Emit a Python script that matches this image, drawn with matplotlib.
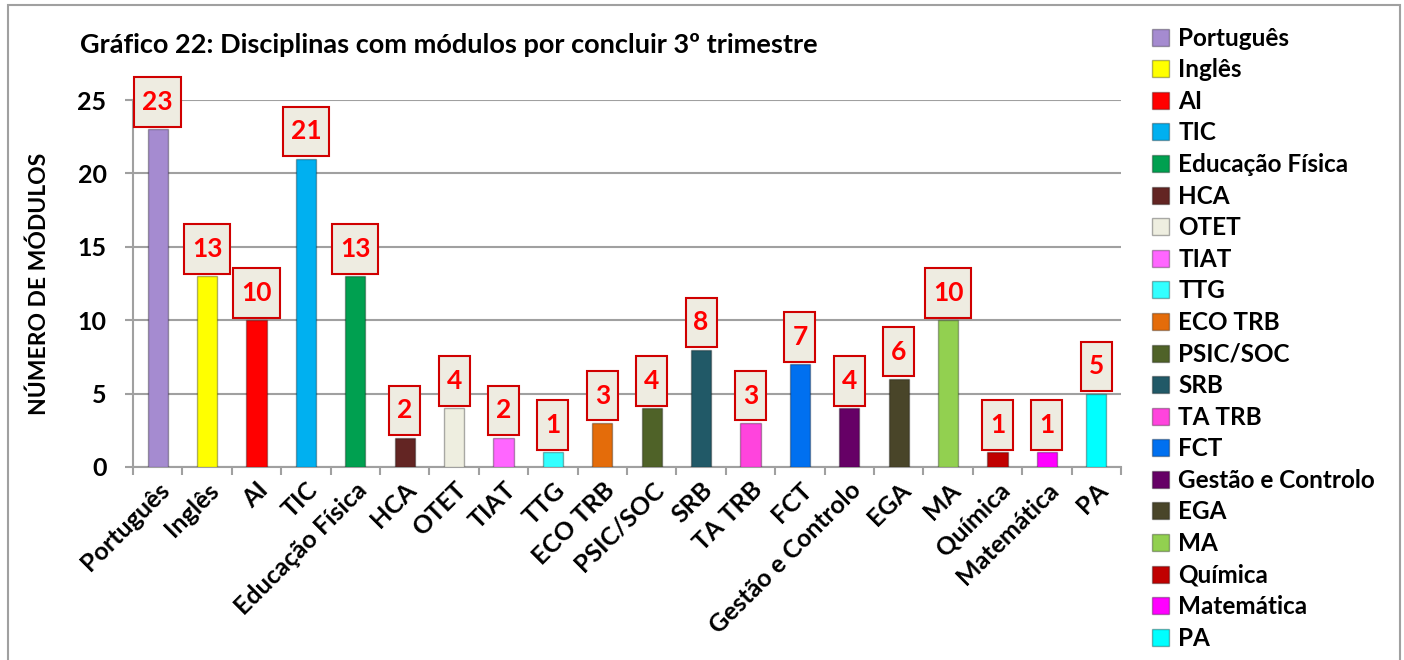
import matplotlib.pyplot as plt
from matplotlib.patches import Patch, Rectangle
from matplotlib.path import Path

plt.rcParams['font.family'] = ['Lato', 'DejaVu Sans']
plt.rcParams['font.weight'] = 'bold'

categories = ["Português", "Inglês", "AI", "TIC", "Educação Física", "HCA", "OTET",
              "TIAT", "TTG", "ECO TRB", "PSIC/SOC", "SRB", "TA TRB", "FCT",
              "Gestão e Controlo", "EGA", "MA", "Química", "Matemática", "PA"]
values = [23, 13, 10, 21, 13, 2, 4, 2, 1, 3, 4, 8, 3, 7, 4, 6, 10, 1, 1, 5]
colors = ["#a58bd0", "#ffff00", "#ff0000", "#00b0f0", "#00a050", "#632523", "#eeeee0",
          "#ff66ff", "#33ffff", "#e46c0a", "#4f6228", "#215967", "#ff44dd", "#0070f0",
          "#660066", "#494529", "#92d050", "#c00000", "#ff00ff", "#00ffff"]


def tall_box(x0, y0, width, height, mutation_size):
    # label box: a little more padding top/bottom than left/right
    padx = 0.3 * mutation_size
    pady = 0.48 * mutation_size
    x0, y0 = x0 - padx, y0 - pady
    x1, y1 = x0 + width + 2 * padx, y0 + height + 2 * pady
    return Path([(x0, y0), (x1, y0), (x1, y1), (x0, y1), (x0, y0)], closed=True)


fig = plt.figure(figsize=(14.04, 6.6), dpi=100)
ax = fig.add_axes([133 / 1404, 1 - 467 / 660, 988 / 1404, 367 / 660])

x = list(range(len(categories)))
ax.bar(x, values, width=0.41, color=colors, edgecolor="#00000050", linewidth=1.0, zorder=3)

# label boxes above the bars
for xi, v in zip(x, values):
    ax.annotate(str(v), (xi, v), xytext=(0, 11), textcoords="offset points",
                ha="center", va="bottom", fontsize=19, fontweight="bold", color="#ff0000",
                bbox=dict(boxstyle=tall_box, fc="#eeece1", ec="#d00000", lw=1.5),
                zorder=5, annotation_clip=False)

ax.set_xlim(-0.5, len(categories) - 0.5)
ax.set_ylim(0, 25)
ax.set_yticks([0, 5, 10, 15, 20, 25])
ax.yaxis.grid(True, color="#a0a0a0", linewidth=1.5, zorder=0)
ax.set_axisbelow(True)

ax.set_xticks(x)
ax.set_xticklabels(categories, rotation=45, ha="right", rotation_mode="anchor", fontsize=18)
ax.set_xticks([i - 0.5 for i in range(len(categories) + 1)], minor=True)
ax.tick_params(axis="x", which="major", length=0, pad=8)
ax.tick_params(axis="x", which="minor", length=6, color="#a0a0a0", width=1.5, direction="out")
ax.tick_params(axis="y", labelsize=18, length=6, color="#a0a0a0", width=1.5, pad=13)

for s in ["top", "right"]:
    ax.spines[s].set_visible(False)
for s in ["left", "bottom"]:
    ax.spines[s].set_color("#a0a0a0")
    ax.spines[s].set_linewidth(1.5)

ax.set_ylabel("NÚMERO DE MÓDULOS", fontsize=16.5, fontweight="bold", labelpad=20)

fig.text(80 / 1404, 1 - 45 / 660, "Gráfico 22: Disciplinas com módulos por concluir 3º trimestre",
         fontsize=19.5, fontweight="bold", va="center", ha="left")

handles = [Patch(facecolor=c, edgecolor="#00000050") for c in colors]
leg = fig.legend(handles, categories, loc="upper left", bbox_to_anchor=(1142 / 1404, 1 - 17 / 660),
                 frameon=False, fontsize=17.5, handlelength=0.7, handleheight=0.7,
                 handletextpad=0.4, labelspacing=0.353, borderaxespad=0)
for t in leg.get_texts():
    t.set_fontweight("bold")

# outer frame of the chart
fig.patches.append(Rectangle((8 / 1404, -0.01), 1392 / 1404, 1 - 5 / 660 + 0.01,
                             transform=fig.transFigure, fill=False, ec="#a0a0a0", lw=1.5))

fig.savefig("out.png", dpi=100)
